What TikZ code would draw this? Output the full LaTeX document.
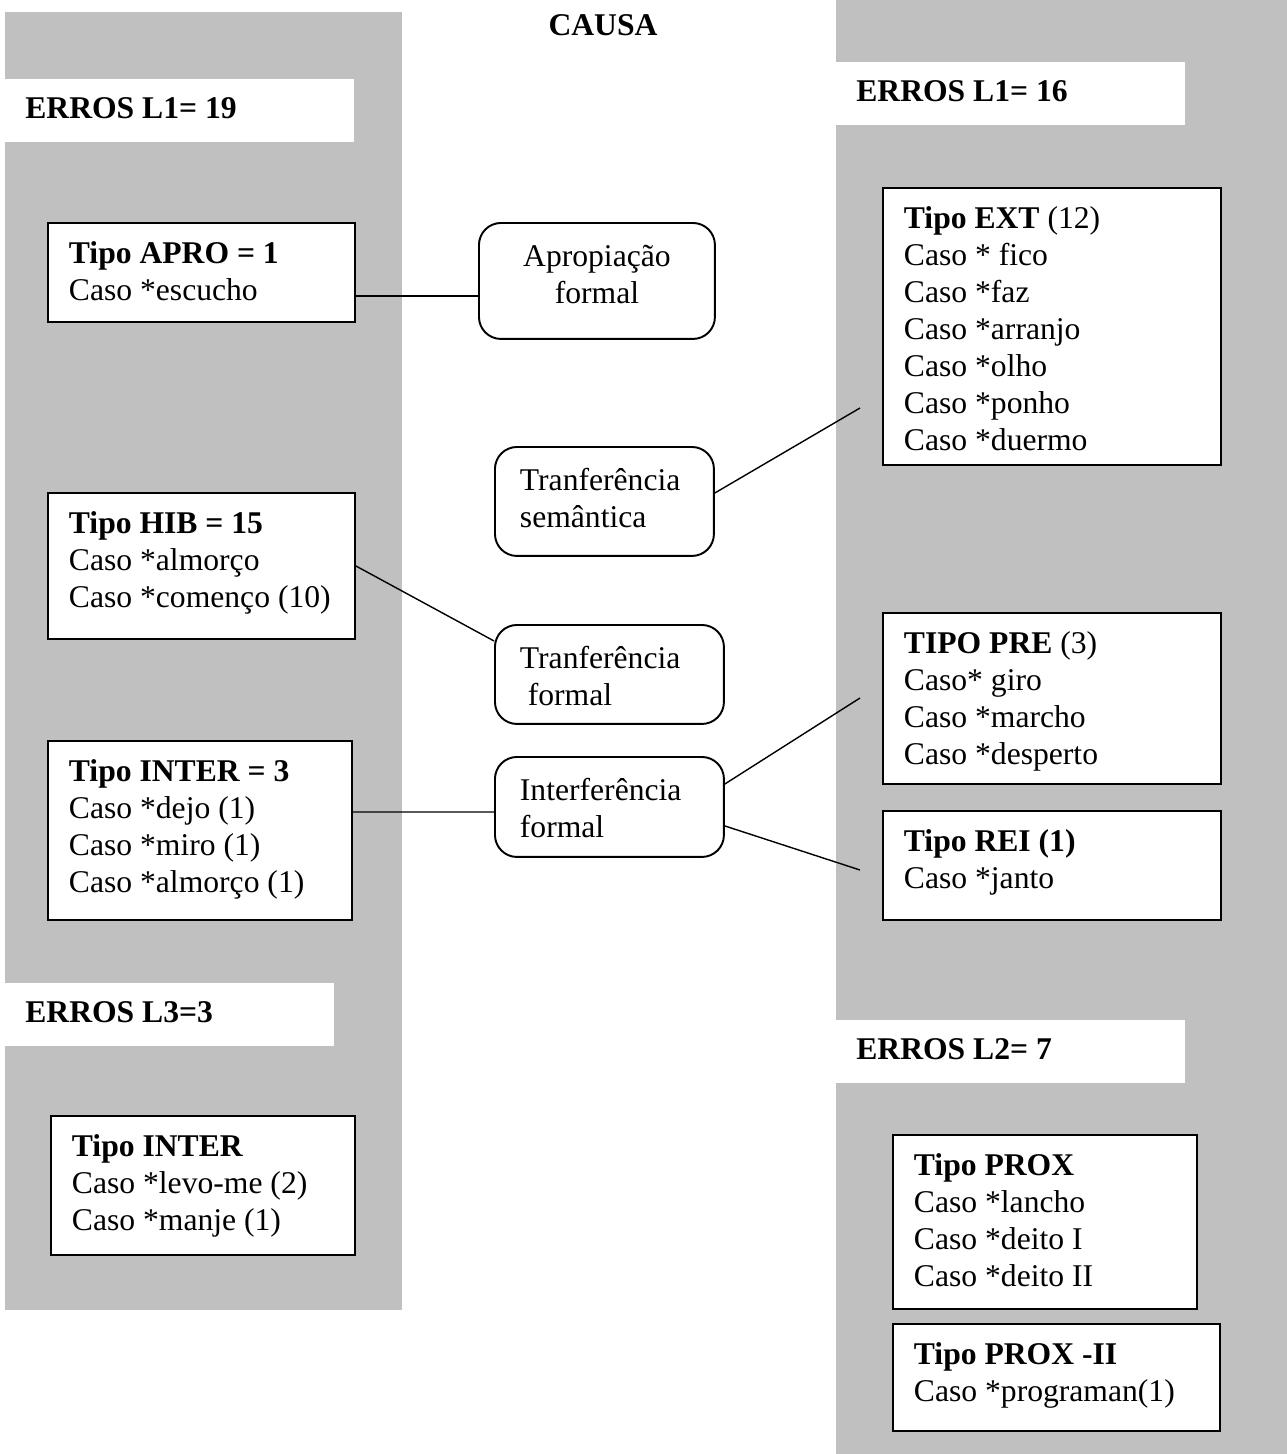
\documentclass[tikz,border=0pt]{standalone}
\usepackage{fontspec}
\setmainfont{Liberation Serif}
\usetikzlibrary{positioning}
\definecolor{causagray}{RGB}{192,192,192}
\tikzset{
    % Plain word spacing inside aligned nodes
    plain spaces/.style={
        execute at begin node={\spaceskip=0pt\xspaceskip=0pt}
    },
    % Label styles
    erros label/.style={
        plain spaces,
        fill=white,
        anchor=north west,
        align=left,
        inner xsep=0.4cm,
        inner ysep=0pt,
        text height=0.79cm,
        text depth=0.47cm,
        font=\fontsize{18}{21}\selectfont\bfseries
    },
    % Box styles
    tipo box/.style={
        plain spaces,
        draw,
        fill=white,
        line width=1.1pt,
        anchor=north west,
        align=left,
        inner xsep=0.42cm,
        inner ysep=0pt,
        text height=0.82cm,
        font=\fontsize{18}{21}\selectfont
    },
    causa box/.style={
        plain spaces,
        draw,
        fill=white,
        line width=1.1pt,
        rounded corners=0.44cm,
        anchor=north west,
        align=left,
        inner xsep=0.5cm,
        inner ysep=0pt,
        text height=0.88cm,
        font=\fontsize{18}{21}\selectfont
    },
    % Line styles
    link/.style={
        line width=0.8pt
    }
}

\begin{document}
\begin{tikzpicture}[x=0.02cm, y=-0.02cm]
        \useasboundingbox (0,0) rectangle (1287,1454);

        % Columns
        \fill[causagray] (5,12) rectangle (402,1310);
        \fill[causagray] (836,0) rectangle (1287,1454);

        % Labels
        \node[anchor=base, font=\fontsize{18}{21}\selectfont\bfseries] (causa) at (603,35) {CAUSA};
        \node[erros label, text width=6.18cm] (l1left) at (5,79) {ERROS L1= 19};
        \node[erros label, text width=5.78cm] (l3) at (5,983) {ERROS L3=3};
        \node[erros label, text width=6.18cm] (l1right) at (836,62) {ERROS L1= 16};
        \node[erros label, text width=6.18cm] (l2) at (836,1020) {ERROS L2= 7};

        % Nodes
        \node[tipo box, text width=5.30cm, text depth=1.16cm] (apro) at (47,222)
            {\textbf{Tipo APRO = 1}\\Caso *escucho};
        \node[tipo box, text width=5.30cm, text depth=2.10cm] (hib) at (47,492)
            {\textbf{Tipo HIB = 15}\\Caso *almorço\\Caso *començo (10)};
        \node[tipo box, text width=5.24cm, text depth=2.76cm] (inter) at (47,740)
            {\textbf{Tipo INTER = 3}\\Caso *dejo (1)\\Caso *miro (1)\\Caso *almorço (1)};
        \node[tipo box, text width=5.24cm, text depth=1.96cm] (interthree) at (50,1115)
            {\textbf{Tipo INTER}\\Caso *levo-me (2)\\Caso *manje (1)};

        \node[causa box, align=center, text width=3.72cm, text depth=1.44cm] (apropiacao) at (478,222)
            {Apropiação\\formal};
        \node[causa box, text width=3.38cm, text depth=1.30cm] (transem) at (494,446)
            {Tranferência\\semântica};
        \node[causa box, text width=3.58cm, text depth=1.10cm] (tranform) at (494,624)
            {Tranferência\\\ formal};
        \node[causa box, text width=3.58cm, text depth=1.12cm] (interf) at (494,756)
            {Interferência\\formal};

        \node[tipo box, text width=5.92cm, text depth=4.72cm] (ext) at (882,187)
            {\textbf{Tipo EXT} (12)\\Caso * fico\\Caso *faz\\Caso *arranjo\\Caso *olho\\Caso *ponho\\Caso *duermo};
        \node[tipo box, text width=5.92cm, text depth=2.60cm] (pre) at (882,612)
            {\textbf{TIPO PRE} (3)\\Caso* giro\\Caso *marcho\\Caso *desperto};
        \node[tipo box, text width=5.92cm, text depth=1.36cm] (rei) at (882,810)
            {\textbf{Tipo REI (1)}\\Caso *janto};
        \node[tipo box, text width=5.24cm, text depth=2.66cm] (prox) at (892,1134)
            {\textbf{Tipo PROX}\\Caso *lancho\\Caso *deito I\\Caso *deito II};
        \node[tipo box, text width=5.70cm, text depth=1.32cm] (proxtwo) at (892,1323)
            {\textbf{Tipo PROX -II}\\Caso *programan(1)};

        % Free line ends
        \coordinate (extin) at (860,408);
        \coordinate (prein) at (860,698);
        \coordinate (reiin) at (860,870);

        % Edges
        \draw[link] ([yshift=-0.47cm]apro.east) -- ([yshift=-0.30cm]apropiacao.west);
        \draw[link] ([yshift=0.17cm]transem.east) -- (extin);
        \draw[link] (hib.east) -- ([yshift=0.67cm]tranform.west);
        \draw[link] ([yshift=0.37cm]inter.east) -- ([yshift=-0.10cm]interf.west);
        \draw[link] ([yshift=0.46cm]interf.east) -- (prein);
        \draw[link] ([yshift=-0.38cm]interf.east) -- (reiin);
    \end{tikzpicture}
\end{document}
